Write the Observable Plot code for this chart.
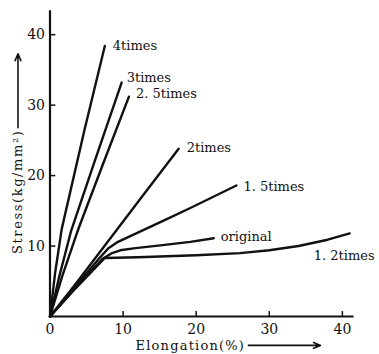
<!DOCTYPE html>
<html><head><meta charset="utf-8">
<script src="https://cdn.jsdelivr.net/npm/d3@7"></script>
<script src="https://cdn.jsdelivr.net/npm/@observablehq/plot@0.6"></script>
<style>
html,body{margin:0;padding:0;background:#fff;}
</style></head><body><div id="chart"></div>
<script>
// Series: [elongation %, stress kg/mm²]
const seriesNames = ["4times","3times","2.5times","2times","1.5times","original","1.2times"];
const seriesLabels = ["4times","3times","2. 5times","2times","1. 5times","original","1. 2times"];
const times4   = [[0,0],[0.7,6.2],[1.6,12.4],[4.7,26.4],[7.5,38.4]];
const times3   = [[0,0],[1.3,5.8],[2.9,12.2],[6.2,22.3],[9.8,33.2]];
const times2_5 = [[0,0],[1.7,5.8],[3.8,12.2],[7.2,21.5],[10.8,31.2]];
const times2   = [[0,0],[3.5,4.6],[7.3,9.8],[12.5,16.9],[17.6,23.8]];
const times1_5 = [[0,0],[3.5,4.3],[6.6,8.1],[8.0,9.7],[9.3,10.6],[15.1,13.4],[19.2,15.4],[25.5,18.6]];
const original = [[0,0],[3.5,4.1],[7.2,8.2],[8.5,9.0],[9.6,9.4],[11.7,9.7],[15.1,10.1],[19.2,10.6],[22.4,11.1]];
const times1_2 = [[0,0],[3.5,4.0],[7.5,8.3],[12,8.4],[20,8.7],[26,9.0],[30,9.4],[34,10.0],[38,10.9],[41,11.8]];
const seriesValues = [times4, times3, times2_5, times2, times1_5, original, times1_2];
const xTicks = [0,10,20,30,40];
const yTicks = [10,20,30,40];
const xTitle = "Elongation(%)";
const yTitle = "Stress(kg/mm²)";

// layout (pixel offsets of labels from each curve end)
const labelOffsets = [[8,0],[5,-4.5],[7,-3],[8,-1],[7,1],[7,-1],[-36,22]];

const rows = seriesNames.flatMap((s, i) => seriesValues[i].map(([x, y]) => ({series: s, x, y})));
const ends = seriesNames.map((s, i) => {
  const v = seriesValues[i][seriesValues[i].length - 1];
  return {series: s, label: seriesLabels[i], x: v[0], y: v[1]};
});

const font = "DejaVu Serif";
const chart = Plot.plot({
  width: 379, height: 354,
  marginLeft: 49.5, marginRight: 22.5, marginTop: 6, marginBottom: 38,
  style: {fontFamily: font, background: "#fff", color: "#111"},
  x: {domain: [0, 42], axis: null},
  y: {domain: [0, 44], axis: null},
  marks: [
    Plot.line(rows, {x: "x", y: "y", z: "series", stroke: "#111", strokeWidth: 2.4, strokeLinejoin: "round"}),
    Plot.ruleX([0], {y1: 0, y2: 43.4, stroke: "#111", strokeWidth: 2.2}),
    Plot.ruleY([0], {x1: 0, x2: 41.6, stroke: "#111", strokeWidth: 2.2}),
    Plot.ruleX(xTicks.slice(1), {x: d => d, y1: 0, y2: 0.7, stroke: "#111", strokeWidth: 1.5}),
    Plot.ruleY(yTicks, {y: d => d, x1: 0, x2: 0.8, stroke: "#111", strokeWidth: 1.5}),
    Plot.axisX(xTicks, {tickSize: 0, tickPadding: 8, fontSize: 14, fontFamily: font, label: null}),
    Plot.axisY(yTicks, {tickSize: 0, tickPadding: 5, fontSize: 14, fontFamily: font, label: null}),
    ...ends.map((e, i) => Plot.text([e], {
      x: "x", y: "y", text: "label", textAnchor: "start",
      dx: labelOffsets[i][0], dy: labelOffsets[i][1],
      fontSize: 13, fontFamily: font, fill: "#111"
    })),
    Plot.text([yTitle], {x: -4.45, y: 17.7, text: d => d, rotate: -90, fontSize: 13, fontFamily: font, fill: "#111"}),
    Plot.text([xTitle], {x: 19.2, y: -4.2, text: d => d, fontSize: 13, fontFamily: font, fill: "#111"}),
    Plot.arrow([yTitle], {x1: -4.38, y1: 26.8, x2: -4.38, y2: 37.3, bend: 0, headLength: 7, headAngle: 45, stroke: "#111", strokeWidth: 1.6}),
    Plot.arrow([xTitle], {x1: 27.15, y1: -4.1, x2: 37.0, y2: -4.1, bend: 0, headLength: 7, headAngle: 45, stroke: "#111", strokeWidth: 1.6})
  ]
});
d3.select(chart).selectAll("text").each(function() {
  const t = this.textContent;
  if (t === yTitle) this.setAttribute("letter-spacing", "1.6");
  if (t === xTitle) this.setAttribute("letter-spacing", "1.2");
});
document.getElementById("chart").append(chart);
</script></body></html>
